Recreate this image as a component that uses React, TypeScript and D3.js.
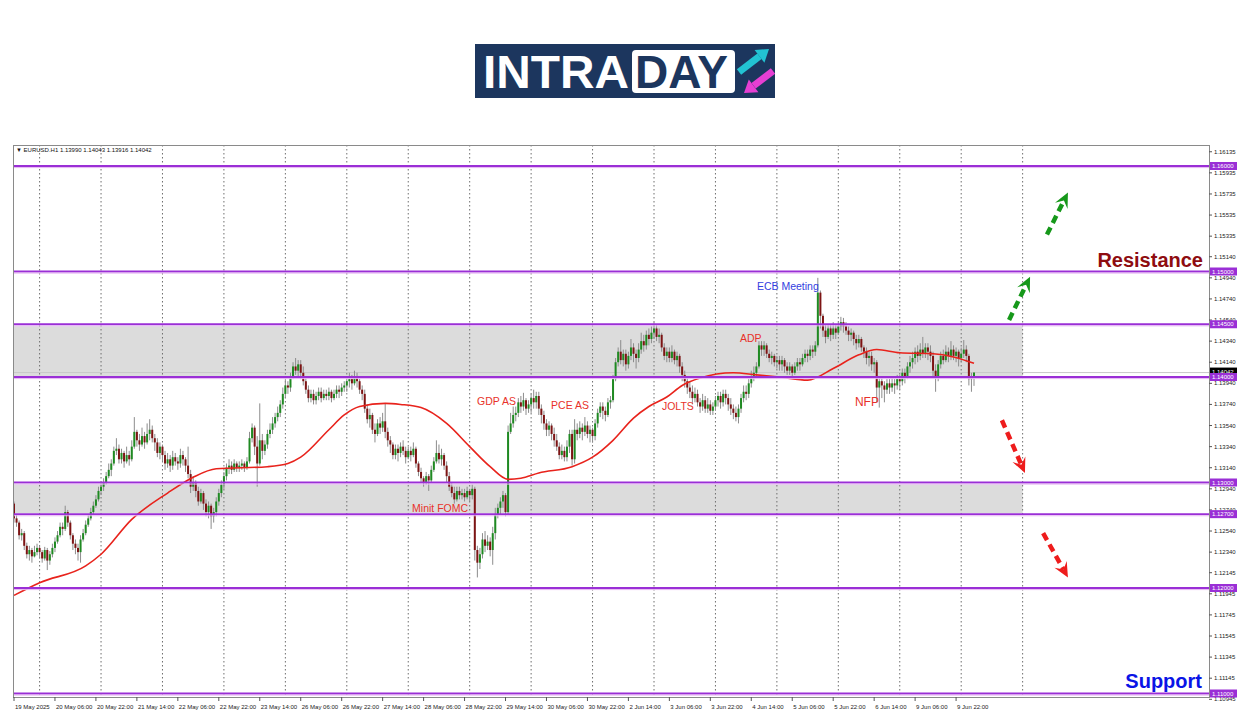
import { useMemo } from 'react';
import * as d3 from 'd3';

// EURUSD H1, 19 May 14:00 → 10 Jun 05:00 (MT4 screenshot style)

const FONT = '"Liberation Sans", Arial, sans-serif';
const BASE = 1.1;
const PIP = 0.0001;

// hourly bars as [close, high, low] in pips above 1.1000 — open = previous close
const FIRST_OPEN = 280;
const D_19MAY = [[266,282,262],[262,270,258],[250,264,246],[252,256,245],[240,254,236],[232,243,228],[236,240,226],[230,238,224],[234,240,229],[238,242,231]];
const D_20MAY = [[234,240,228],[228,236,224],[236,239,226],[226,238,217],[232,235,222],[238,242,229],[244,248,234],[250,254,242],[258,262,248],[256,262,250],[272,278,254],[262,274,258],[250,264,246],[242,252,236],[238,246,232],[234,242,226],[246,250,224],[252,256,244],[260,264,250],[266,270,258],[272,276,264],[278,282,270],[284,288,276],[292,296,282]];
const D_21MAY = [[296,300,288],[300,304,292],[306,310,298],[312,318,304],[318,322,306],[330,334,316],[332,342,326],[322,336,318],[328,332,318],[320,330,314],[326,334,318],[322,330,316],[334,340,320],[348,362,332],[340,350,334],[336,346,330],[344,352,334],[338,348,332],[346,356,336],[350,360,340],[342,354,338],[338,346,330],[328,342,324],[334,338,322]];
const D_22MAY = [[326,336,320],[318,330,312],[322,328,314],[316,326,310],[324,330,312],[320,328,316],[318,324,312],[326,332,314],[322,330,316],[316,324,310],[308,334,304],[296,312,290],[300,306,292],[292,302,286],[282,296,278],[290,294,280],[280,292,274],[272,284,268],[278,282,266],[268,280,256],[272,276,262],[282,286,268],[290,294,278],[298,302,286]];
const D_23MAY = [[306,310,294],[314,318,302],[316,322,308],[312,320,308],[318,322,310],[314,320,310],[316,320,310],[318,322,312],[314,320,310],[320,324,312],[342,348,318],[352,356,338],[334,354,326],[318,344,296],[340,375,316],[330,346,322],[336,340,326],[346,350,332],[350,356,342],[356,362,346],[362,366,352],[366,372,358],[374,378,362],[384,390,370]];
const D_26MAY = [[392,398,380],[390,396,384],[400,404,386],[410,414,398],[406,418,402],[412,416,400],[404,416,398],[396,410,392],[388,400,384],[380,392,376],[384,388,376],[378,388,374],[382,386,374],[386,390,378],[380,390,376],[384,388,378],[382,388,378],[386,390,378],[380,388,376],[384,388,378],[388,392,380],[386,392,380],[390,394,382],[392,396,386]];
const D_27MAY = [[396,400,386],[398,404,390],[394,402,388],[400,406,392],[396,404,390],[388,398,384],[384,392,378],[370,388,366],[360,374,356],[364,370,352],[350,366,346],[346,356,338],[356,360,344],[352,362,346],[358,366,348],[348,375,342],[340,352,334],[336,344,328],[326,338,322],[332,336,322],[328,336,320],[334,338,324],[330,340,326],[324,334,318]];
const D_28MAY = [[330,334,322],[326,334,320],[332,338,324],[318,334,314],[310,320,306],[304,314,300],[300,306,296],[306,310,298],[302,308,292],[312,316,300],[320,324,310],[328,340,318],[322,336,318],[326,332,316],[316,328,312],[306,320,300],[296,310,292],[290,300,286],[284,296,280],[292,296,282],[288,296,284],[290,294,284],[286,294,282],[292,296,284]];
const D_29MAY = [[288,294,282],[294,298,284],[236,296,226],[224,240,210],[232,238,218],[246,252,228],[240,254,234],[244,250,236],[236,248,230],[252,258,222],[270,276,246],[276,280,266],[282,286,270],[288,292,276],[272,290,268],[348,354,270],[356,366,346],[364,372,352],[366,372,358],[376,380,362],[372,382,366],[378,385,368],[370,380,364],[374,378,366]];
const D_30MAY = [[380,384,366],[376,388,370],[382,386,370],[370,386,364],[364,374,356],[356,368,350],[350,360,344],[354,358,344],[346,356,340],[340,352,334],[334,346,330],[326,338,322],[330,336,322],[324,334,320],[334,340,320],[346,350,328],[322,350,316],[350,360,318],[346,356,340],[352,358,342],[348,356,340],[354,362,344],[346,358,342],[350,354,338]];
const D_2JUN = [[344,352,338],[356,360,340],[366,370,352],[372,376,362],[368,376,360],[364,372,358],[376,380,362],[378,382,370],[398,402,376],[414,418,396],[424,428,410],[416,435,412],[422,426,410],[412,426,406],[420,424,408],[428,436,416],[422,432,414],[418,426,408],[426,432,414],[434,442,422],[430,440,424],[440,444,426],[436,446,430],[442,448,432]];
const D_3JUN = [[446,452,436],[438,450,434],[440,446,432],[428,442,424],[420,432,416],[424,428,414],[418,428,414],[424,430,414],[416,426,412],[420,424,410],[410,422,404],[402,414,396],[396,406,390],[390,400,384],[386,396,380],[380,392,374],[384,390,376],[376,388,372],[372,380,366],[378,384,368],[370,382,366],[374,380,366],[368,378,364],[372,376,364]];
const D_4JUN = [[378,382,368],[382,386,372],[376,386,370],[384,388,372],[380,388,374],[374,384,368],[370,380,364],[366,374,360],[362,372,358],[370,374,356],[380,384,366],[386,392,376],[384,392,378],[394,398,380],[400,406,390],[404,410,396],[410,414,400],[430,434,408],[426,434,420],[430,434,420],[422,432,418],[418,426,414],[420,424,412],[414,422,410]];
const D_5JUN = [[416,420,408],[412,420,406],[416,420,406],[410,418,404],[406,414,402],[410,414,402],[404,412,400],[410,414,402],[414,418,406],[412,418,406],[418,422,410],[422,426,414],[420,426,414],[426,430,416],[424,430,418],[430,434,420],[480,494,428],[458,482,446],[444,460,438],[438,450,432],[446,450,436],[440,450,434],[446,452,436],[442,450,436]];
const D_6JUN = [[448,452,440],[452,457,444],[448,456,442],[444,452,440],[440,448,434],[442,446,434],[436,444,430],[432,440,426],[436,440,428],[428,438,424],[424,430,418],[418,428,412],[420,424,410],[412,424,406],[414,418,404],[390,416,376],[396,400,371],[392,400,380],[388,396,376],[394,398,384],[390,398,384],[394,400,386],[392,398,384],[398,402,388]];
const D_9JUN = [[396,402,388],[404,408,392],[400,408,394],[410,414,398],[414,420,404],[418,424,408],[424,428,412],[420,430,414],[426,432,416],[422,438,418],[428,432,418],[424,432,416],[420,430,414],[406,424,400],[400,412,386],[412,416,396],[420,424,408],[416,426,412],[424,430,414],[420,428,414],[426,434,416],[420,430,416],[424,428,414],[418,426,410]];
const D_10JUN = [[422,428,414],[426,435,418],[420,430,414],[398,422,392],[399,404,386],[404.2,404.3,391.6]];

const DAYS = [D_19MAY, D_20MAY, D_21MAY, D_22MAY, D_23MAY, D_26MAY, D_27MAY, D_28MAY, D_29MAY, D_30MAY, D_2JUN, D_3JUN, D_4JUN, D_5JUN, D_6JUN, D_9JUN, D_10JUN];

// moving average (red), read at selected bars
const MA_BAR  = [0, 10, 28, 34, 46, 60, 70, 79, 99, 107, 112, 123, 129, 135, 145, 151, 159, 169, 178, 186, 193, 198, 205, 218, 226, 234, 242, 248, 255, 261, 268, 281, 290, 299, 310, 320, 330, 337, 346, 359, 367, 375];
const MA_PIPS = [193, 205, 221, 232, 265, 290, 305, 313, 315, 318, 324, 350, 364, 372, 375, 374, 371, 356, 334, 315, 303, 304, 309, 315, 324, 340, 361, 372, 381, 392, 399, 404, 402, 400, 397, 408, 421, 426, 423, 422, 419, 413];

const PRICE_TICKS = [1.16135, 1.15935, 1.15735, 1.15535, 1.15335, 1.1514, 1.1494, 1.1474, 1.1454, 1.1434, 1.1414, 1.1394, 1.1374, 1.1354, 1.1334, 1.1314, 1.1294, 1.1274, 1.1254, 1.1234, 1.12145, 1.11945, 1.11745, 1.11545, 1.11345, 1.11145, 1.10945];
const LEVELS = [1.16, 1.15, 1.145, 1.14, 1.13, 1.127, 1.12, 1.11];
const ZONES = [[1.14, 1.145], [1.127, 1.13]];
const TIME_LABELS = ['19 May 2025', '20 May 06:00', '20 May 22:00', '21 May 14:00', '22 May 06:00', '22 May 22:00', '23 May 14:00', '26 May 06:00', '26 May 22:00', '27 May 14:00', '28 May 06:00', '28 May 22:00', '29 May 14:00', '30 May 06:00', '30 May 22:00', '2 Jun 14:00', '3 Jun 06:00', '3 Jun 22:00', '4 Jun 14:00', '5 Jun 06:00', '5 Jun 22:00', '6 Jun 14:00', '9 Jun 06:00', '9 Jun 22:00'];

// event notes: [text, bar, pips at baseline, colour]
const EVENTS: [string, number, number, string, number][] = [
  ['Minit FOMC', 155.5, 272, '#e8312a', 10.5],
  ['GDP AS', 180.9, 373, '#e8312a', 10.5],
  ['PCE AS', 209.8, 370, '#e8312a', 10.5],
  ['JOLTS', 253.1, 369, '#e8312a', 10.5],
  ['ADP', 283.6, 433, '#e8312a', 10.5],
  ['ECB Meeting', 290.2, 482, '#3340e0', 10.5],
  ['NFP', 328.5, 372.5, '#e8312a', 12],
];

// outlook arrows: [bar, pips] tail → tip
const ARROWS: [number, number, number, number, string][] = [
  [388.7, 454, 396.9, 495, '#16981a'],
  [403.5, 535, 411.7, 575, '#16981a'],
  [385.9, 359, 394.9, 309, '#ee1c1c'],
  [402.0, 252, 411.7, 210, '#ee1c1c'],
];

const NAVY = '#1c365e';
const PURPLE = '#9a2fd6';

function DashArrow({ x1, y1, x2, y2, color }: { x1: number; y1: number; x2: number; y2: number; color: string }) {
  const len = Math.hypot(x2 - x1, y2 - y1);
  const ux = (x2 - x1) / len, uy = (y2 - y1) / len;
  const px = -uy, py = ux;
  const head = 15, half = 7, notch = 9;
  const bx = x2 - ux * head, by = y2 - uy * head;
  const nx = x2 - ux * notch, ny = y2 - uy * notch;
  const pts = [[x2, y2], [bx + px * half, by + py * half], [nx, ny], [bx - px * half, by - py * half]];
  return (
    <g>
      <line x1={x1} y1={y1} x2={nx} y2={ny} stroke={color} strokeWidth={4.5} strokeDasharray="8 5" />
      <polygon points={pts.map((p) => p.join(',')).join(' ')} fill={color} />
    </g>
  );
}

export default function App() {
  const x = d3.scaleLinear().domain([0, 400]).range([14, 1038]);
  const y = d3.scaleLinear().domain([1.1, 1.16]).range([799, 166]);
  const py = (p: number) => y(BASE + p * PIP);

  const L = 13, T = 145, R = 1209, B = 697;

  const candles = useMemo(() => {
    const out: { i: number; o: number; h: number; l: number; c: number }[] = [];
    let prev = FIRST_OPEN;
    DAYS.flat().forEach(([c, h, l], i) => {
      out.push({ i, o: prev, h, l, c });
      prev = c;
    });
    return out;
  }, []);

  const last = candles[candles.length - 1];
  const maLine = d3.line<number>()
    .x((_, k) => x(MA_BAR[k]))
    .y((d) => py(d))
    .curve(d3.curveMonotoneX)(MA_PIPS) ?? '';

  const gridBars = d3.range(17).map((k) => 10 + 24 * k);
  const labelBars = TIME_LABELS.map((_, k) => 16 * k);

  return (
    <svg width={1250} height={716} style={{ position: 'absolute', left: 0, top: 0, display: 'block' }}>
      <rect width={1250} height={716} fill="#fff" />

      {/* logo */}
      <g>
        <rect x={475} y={44} width={300} height={54} fill={NAVY} />
        <text x={483} y={88} fontFamily={FONT} fontWeight={700} fontSize={46} fill="#fff" textLength={146} lengthAdjust="spacingAndGlyphs">INTRA</text>
        <rect x={632} y={50} width={103} height={43} rx={4} fill="#fff" />
        <text x={635} y={88} fontFamily={FONT} fontWeight={700} fontSize={46} fill={NAVY} textLength={93} lengthAdjust="spacingAndGlyphs">DAY</text>
        <line x1={739} y1={72} x2={759.5} y2={56.3} stroke="#22c3d3" strokeWidth={7} />
        <polygon points="769,49 764.4,62.7 754.6,49.9" fill="#22c3d3" />
        <line x1={773} y1={71} x2={753.6} y2={85.8} stroke="#e63fd3" strokeWidth={7} />
        <polygon points="744,93 758.4,92.2 748.8,79.4" fill="#e63fd3" />
      </g>

      {/* zones */}
      {ZONES.map(([lo, hi]) => (
        <rect key={lo} x={x(0)} y={y(hi) + 2} width={x(394) - x(0)} height={y(lo) - y(hi) - 3} fill="#dcdcdc" />
      ))}

      {/* vertical grid */}
      {gridBars.map((b) => (
        <line key={b} x1={x(b)} x2={x(b)} y1={T} y2={B} stroke="#6e6e6e" strokeWidth={1} strokeDasharray="1.5 2.5" />
      ))}

      {/* current price line */}
      <line x1={L} x2={R} y1={py(last.c)} y2={py(last.c)} stroke="#c8c8c8" strokeWidth={1} />

      {/* candles */}
      {candles.map((d) => {
        const cx = x(d.i);
        const top = py(Math.max(d.o, d.c));
        const h = Math.max(1, Math.abs(py(d.o) - py(d.c)));
        return (
          <g key={d.i}>
            <line x1={cx} x2={cx} y1={py(d.h)} y2={py(d.l)} stroke="#8c8c8c" strokeWidth={1} />
            <rect x={cx - 1} y={top} width={2} height={h} fill={d.c >= d.o ? '#1f8a22' : '#7d1414'} />
          </g>
        );
      })}

      {/* moving average */}
      <path d={maLine} fill="none" stroke="#e8231c" strokeWidth={1.6} />

      {/* levels */}
      {LEVELS.map((v) => (
        <g key={v}>
          <line x1={L} x2={R} y1={y(v)} y2={y(v)} stroke={PURPLE} strokeWidth={1.8} />
          <line x1={L} x2={R} y1={y(v) + 1.6} y2={y(v) + 1.6} stroke="#e6b4f3" strokeWidth={1} />
        </g>
      ))}

      {/* events */}
      {EVENTS.map(([t, b, p, c, s]) => (
        <text key={t} x={x(b)} y={py(p)} fontFamily={FONT} fontSize={s} fill={c}>{t}</text>
      ))}

      {ARROWS.map(([b1, p1, b2, p2, c], k) => (
        <DashArrow key={k} x1={x(b1)} y1={py(p1)} x2={x(b2)} y2={py(p2)} color={c} />
      ))}

      <text x={1203} y={267} textAnchor="end" fontFamily={FONT} fontWeight={700} fontSize={20} fill="#8e0c10">Resistance</text>
      <text x={1202} y={688} textAnchor="end" fontFamily={FONT} fontWeight={700} fontSize={20} fill="#0a14e6">Support</text>

      {/* frame */}
      <rect x={L + 0.5} y={T + 0.5} width={R - L} height={B - T} fill="none" stroke="#8a8a8a" strokeWidth={1} />

      {/* price axis */}
      {PRICE_TICKS.map((v) => (
        <g key={v}>
          <line x1={R} x2={R + 3} y1={y(v)} y2={y(v)} stroke="#555" />
          <text x={R + 5} y={y(v) + 2} fontFamily={FONT} fontSize={6} fill="#222">{v.toFixed(5)}</text>
        </g>
      ))}
      <rect x={R + 1} y={py(last.c) - 5} width={27} height={8} fill="#000" />
      <text x={R + 3} y={py(last.c) + 1} fontFamily={FONT} fontSize={6} fill="#fff">{(BASE + last.c * PIP).toFixed(5)}</text>
      {LEVELS.map((v) => (
        <g key={v}>
          <rect x={R + 1} y={y(v) - 4} width={27} height={8} fill={PURPLE} />
          <text x={R + 3} y={y(v) + 2.2} fontFamily={FONT} fontSize={6} fill="#fff">{v.toFixed(5)}</text>
        </g>
      ))}

      {/* time axis */}
      {labelBars.map((b, k) => (
        <g key={b}>
          <line x1={x(b)} x2={x(b)} y1={B} y2={B + 4} stroke="#555" />
          <text x={x(b) + 1} y={B + 12} fontFamily={FONT} fontSize={6} fill="#222">{TIME_LABELS[k]}</text>
        </g>
      ))}

      {/* header */}
      <text x={16} y={152} fontFamily={FONT} fontSize={6} fill="#111">
        {'▼ EURUSD.H1  1.13990 1.14043 1.13916 1.14042'}
      </text>
    </svg>
  );
}
